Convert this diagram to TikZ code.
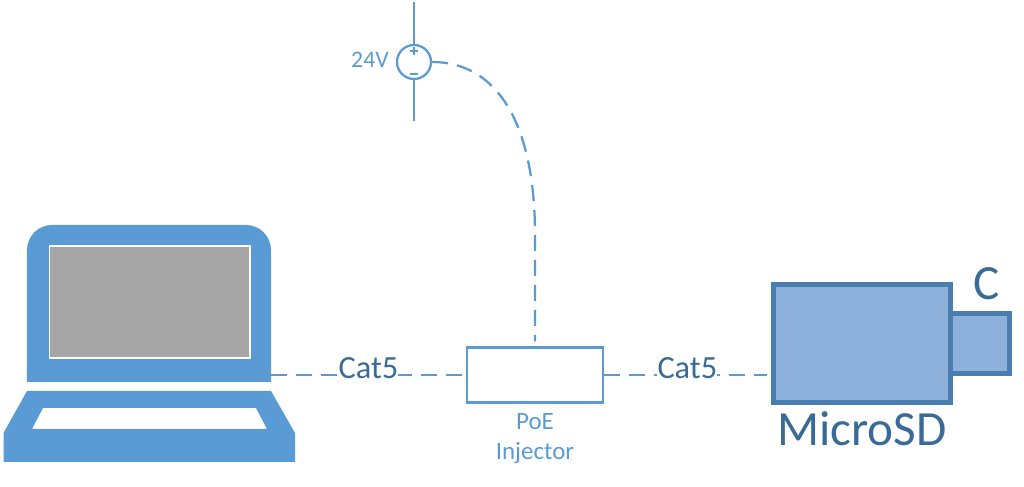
\documentclass[tikz,border=0pt]{standalone}
\usepackage{fontspec}
\setmainfont{Carlito}
\definecolor{linkblue}{HTML}{5B9BD5}
\definecolor{camfill}{HTML}{8DB1DB}
\definecolor{camedge}{HTML}{4A7EB0}
\definecolor{darktext}{HTML}{3A6A96}
\definecolor{screengray}{HTML}{A5A5A5}
\tikzset{
  cable/.style={linkblue, line width=1.3pt, dash pattern=on .32cm off .18cm},
  wire/.style={linkblue, line width=1.3pt},
  catlabel/.style={fill=white, inner sep=0pt, yshift=.14cm, text=darktext, font=\fontsize{18.4}{20}\selectfont},
  camlabel/.style={anchor=base, inner sep=0pt, text=darktext, font=\fontsize{28}{30}\selectfont},
  smalllabel/.style={inner sep=0pt, text=linkblue},
  campart/.style={draw=camedge, fill=camfill, line width=.1cm, inner sep=0pt}
}
\begin{document}
\begin{tikzpicture}
  \useasboundingbox (0,0) rectangle (20.48,9.74);
  % laptop
  \fill[linkblue] (.54,2.10) -- (.54,4.74) arc(180:90:.5) -- (4.92,5.24) arc(90:0:.5) -- (5.42,2.10) -- cycle;
  \draw[white, fill=screengray, line width=.8pt] (.99,2.58) rectangle (5.0,4.82);
  \fill[linkblue, even odd rule] (.54,1.92) -- (5.42,1.92) -- (5.9,1.08) -- (5.9,.5) -- (.07,.5) -- (.07,1.08) -- cycle
    (.86,1.58) -- (5.12,1.58) -- (5.34,1.16) -- (.64,1.16) -- cycle;
  \coordinate (lanport) at (5.42,2.24);
  % injector
  \node[draw=linkblue, line width=1.3pt, minimum width=2.72cm, minimum height=1.1cm, inner sep=0pt] (inj) at (10.7,2.24) {};
  \node[smalllabel, align=center, font=\fontsize{14.2}{17}\selectfont] (injlabel) at (10.7,.97) {PoE\\Injector};
  % camera
  \node[campart, minimum width=1.18cm, minimum height=1.2cm] (lens) at (19.59,2.86) {};
  \node[campart, minimum width=3.54cm, minimum height=2.36cm] (cam) at (17.23,2.86) {};
  \node[camlabel] (sdlabel) at (17.24,.82) {MicroSD};
  \node[camlabel] (clabel) at (19.74,3.74) {C};
  % supply
  \node[draw=linkblue, circle, line width=1.3pt, minimum size=.68cm, inner sep=0pt] (src) at (8.28,8.5) {};
  \node[smalllabel, anchor=base, font=\fontsize{13.5}{15}\selectfont] (srclabel) at (7.4,8.38) {24V};
  \coordinate (srctop) at (8.28,9.70);
  \coordinate (srcbot) at (8.28,7.32);
  \coordinate (bend) at (10.7,5.04);
  \draw[wire] (src) -- (srctop);
  \draw[wire] (src) -- (srcbot);
  \draw[wire] (8.2,8.72) -- (8.36,8.72);
  \draw[wire] (8.28,8.64) -- (8.28,8.80);
  \draw[wire] (8.2,8.26) -- (8.36,8.26);
  % cables
  \draw[cable, shorten >=.1cm] (src.east) .. controls (9.9,8.5) and (10.7,7.34) .. (bend) -- (inj.north);
  \draw[cable, shorten >=.08cm] (lanport) -- node[catlabel] (catleft) {Cat5} (inj.west);
  \draw[cable, shorten >=.08cm] (inj.east) -- node[catlabel] (catright) {Cat5} (cam.west |- inj.east);
\end{tikzpicture}
\end{document}
